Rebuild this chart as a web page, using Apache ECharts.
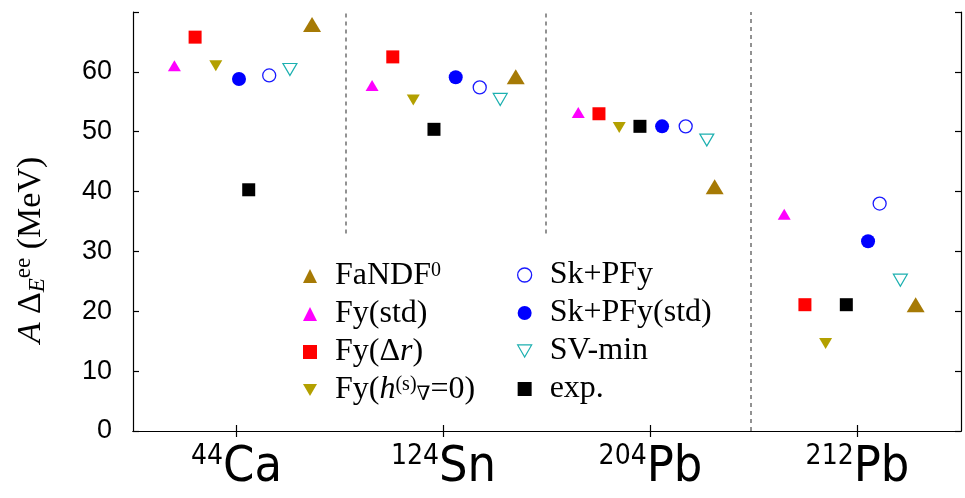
<!DOCTYPE html>
<html>
<head>
<meta charset="utf-8">
<script src="https://cdn.jsdelivr.net/npm/echarts@6/dist/echarts.min.js"></script>
<style>
  html, body { margin: 0; padding: 0; background: #fff; }
  #chart { width: 965px; height: 498px; }
</style>
</head>
<body>
<div id="chart"></div>
<script>
// nuclei on the x axis (positions 1..4)
const massNumbers = ['44', '124', '204', '212'];
const elements = ['Ca', 'Sn', 'Pb', 'Pb'];
const groupTicks = [1, 2, 3, 4];

// dashed separators between the groups
const separatorX = [1.529, 2.495, 3.486];
const separatorFrom = [33, 33, 0];

// series: x position inside each group and A*Delta_E^ee (MeV)
const fandfX = [1.365, 2.349, 3.310, 4.281];
const fandfY = [67.9, 59.2, 40.8, 21.1];
const fyStdX = [0.700, 1.655, 2.651, 3.646];
const fyStdY = [61.0, 57.7, 53.2, 36.2];
const fyDrX = [0.800, 1.755, 2.751, 3.746];
const fyDrY = [65.8, 62.5, 53.0, 21.1];
const fyH0X = [0.900, 1.854, 2.849, 3.846];
const fyH0Y = [61.0, 55.3, 50.7, 14.6];
const skX = [1.158, 2.175, 3.170, 4.107];
const skY = [59.4, 57.4, 50.9, 38.0];
const skStdX = [1.012, 2.059, 3.056, 4.051];
const skStdY = [58.8, 59.1, 50.9, 31.7];
const svMinX = [1.258, 2.274, 3.272, 4.207];
const svMinY = [60.4, 55.4, 48.6, 25.2];
const expX = [1.059, 1.954, 2.949, 3.946];
const expY = [40.3, 50.4, 50.9, 21.1];

const pairs = (xs, ys) => xs.map((x, i) => [x, ys[i]]);

const legendLabels = {
  'FaNDF0': 'FaNDF{sup|0}',
  'Fy(std)': 'Fy(std)',
  'Fy(Δr)': 'Fy(Δ{it|r})',
  'Fy(h=0)': 'Fy({it|h}{sup|(s)}{sub|∇}=0)',
  'Sk+PFy': 'Sk+PFy',
  'Sk+PFy(std)': 'Sk+PFy(std)',
  'SV-min': 'SV-min',
  'exp.': 'exp.'
};

const downTriangle = 'path://M0,0 L12,0 L6,10.4 Z';

const serif = '"Liberation Serif", "DejaVu Serif", serif';
const sans = '"Liberation Sans", Arial, sans-serif';
const narrow = '"Liberation Sans Narrow", "DejaVu Sans Condensed", "Liberation Sans", sans-serif';

const legendText = {
  color: '#000', fontFamily: serif, fontSize: 32, lineHeight: 30,
  padding: [0, 0, 0, 13],
  rich: {
    sup: { fontFamily: serif, fontSize: 20, lineHeight: 20, verticalAlign: 'top', padding: [0, 0, 9, 0] },
    sub: { fontFamily: serif, fontSize: 20, lineHeight: 20, padding: [9, 0, 0, 0] },
    it: { fontFamily: serif, fontSize: 32, fontStyle: 'italic', lineHeight: 30 }
  }
};

const chart = echarts.init(document.getElementById('chart'));

const frameAxis = {
  axisLine: { show: true, lineStyle: { color: '#000', width: 1.2 } },
  axisTick: { show: true, inside: true, length: 6, lineStyle: { color: '#000', width: 1.2 } },
  splitLine: { show: false }
};

chart.setOption({
  animation: false,
  backgroundColor: '#fff',
  grid: { left: 133, right: 4, top: 12, bottom: 67 },
  legend: [
    {
      left: 298, top: 255, orient: 'vertical',
      itemWidth: 14, itemHeight: 14, itemGap: 6,
      textStyle: legendText,
      formatter: name => legendLabels[name],
      data: [
        { name: 'FaNDF0' },
        { name: 'Fy(std)' },
        { name: 'Fy(Δr)' },
        { name: 'Fy(h=0)', icon: downTriangle }
      ]
    },
    {
      left: 512, top: 254, orient: 'vertical',
      itemWidth: 14, itemHeight: 14, itemGap: 6,
      textStyle: legendText,
      formatter: name => legendLabels[name],
      data: [
        { name: 'Sk+PFy', itemStyle: { borderWidth: 1.3 } },
        { name: 'Sk+PFy(std)' },
        { name: 'SV-min', icon: downTriangle, itemStyle: { borderWidth: 1.2 } },
        { name: 'exp.' }
      ]
    }
  ],
  xAxis: [
    Object.assign({
      type: 'value', min: 0.5, max: 4.5, position: 'bottom',
      axisLabel: {
        customValues: groupTicks, margin: 12, color: '#000',
        formatter: v => '{sup|' + massNumbers[v - 1] + '}{el|' + elements[v - 1] + '}',
        rich: {
          sup: { fontFamily: narrow, fontSize: 28, lineHeight: 28, verticalAlign: 'top', padding: [0, 0, 24, 0] },
          el: { fontFamily: narrow, fontSize: 50, lineHeight: 50 }
        }
      }
    }, frameAxis, {
      axisTick: Object.assign({}, frameAxis.axisTick, { customValues: groupTicks })
    }),
    Object.assign({
      type: 'value', min: 0.5, max: 4.5, position: 'top',
      axisLabel: { show: false }
    }, frameAxis, {
      axisTick: Object.assign({}, frameAxis.axisTick, { customValues: groupTicks })
    })
  ],
  yAxis: [
    Object.assign({
      type: 'value', min: 0, max: 70, interval: 10, position: 'left',
      axisLabel: {
        margin: 21, color: '#000', fontFamily: sans, fontSize: 27,
        formatter: v => (v >= 70 ? '' : String(v))
      }
    }, frameAxis),
    Object.assign({
      type: 'value', min: 0, max: 70, interval: 10, position: 'right',
      axisLabel: { show: false }
    }, frameAxis)
  ],
  graphic: [{
    type: 'text', x: 31, y: 250, rotation: Math.PI / 2,
    style: {
      text: '{it|A} Δ{sub|E}{sup|ee} (MeV)',
      fill: '#000', font: '34px ' + serif, align: 'center', verticalAlign: 'middle',
      rich: {
        it: { fontFamily: serif, fontSize: 34, fontStyle: 'italic', fill: '#000' },
        sub: { fontFamily: serif, fontSize: 23, fontStyle: 'italic', fill: '#000', padding: [14, 0, 0, 0] },
        sup: { fontFamily: serif, fontSize: 23, fill: '#000', padding: [0, 0, 14, 0] }
      }
    }
  }],
  series: [
    {
      name: 'FaNDF0', type: 'scatter', symbol: 'triangle', symbolSize: [18, 15],
      itemStyle: { color: '#a67a05', opacity: 1 }, data: pairs(fandfX, fandfY)
    },
    {
      name: 'Fy(std)', type: 'scatter', symbol: 'triangle', symbolSize: [13, 11],
      itemStyle: { color: '#ff00ff', opacity: 1 }, data: pairs(fyStdX, fyStdY)
    },
    {
      name: 'Fy(Δr)', type: 'scatter', symbol: 'rect', symbolSize: 13,
      itemStyle: { color: '#ff0000', opacity: 1 }, data: pairs(fyDrX, fyDrY)
    },
    {
      name: 'Fy(h=0)', type: 'scatter', symbol: 'triangle', symbolRotate: 180, symbolSize: [13, 11],
      itemStyle: { color: '#b3a000', opacity: 1 }, data: pairs(fyH0X, fyH0Y)
    },
    {
      name: 'Sk+PFy', type: 'scatter', symbol: 'circle', symbolSize: 13,
      itemStyle: { color: '#ffffff', borderColor: '#1a1aff', borderWidth: 1.3, opacity: 1 }, data: pairs(skX, skY)
    },
    {
      name: 'Sk+PFy(std)', type: 'scatter', symbol: 'circle', symbolSize: 14,
      itemStyle: { color: '#0000ff', opacity: 1 }, data: pairs(skStdX, skStdY)
    },
    {
      name: 'SV-min', type: 'scatter', symbol: 'triangle', symbolRotate: 180, symbolSize: [14, 12],
      itemStyle: { color: '#ffffff', borderColor: '#1cb0b0', borderWidth: 1.2, opacity: 1 }, data: pairs(svMinX, svMinY)
    },
    {
      name: 'exp.', type: 'scatter', symbol: 'rect', symbolSize: 13,
      itemStyle: { color: '#000000', opacity: 1 }, data: pairs(expX, expY),
      markLine: {
        silent: true, symbol: 'none', label: { show: false },
        lineStyle: { color: '#6f6f6f', width: 1.5, type: [4, 4] },
        data: separatorX.map((x, i) => [{ coord: [x, separatorFrom[i]] }, { coord: [x, 70] }])
      }
    }
  ]
});
</script>
</body>
</html>
